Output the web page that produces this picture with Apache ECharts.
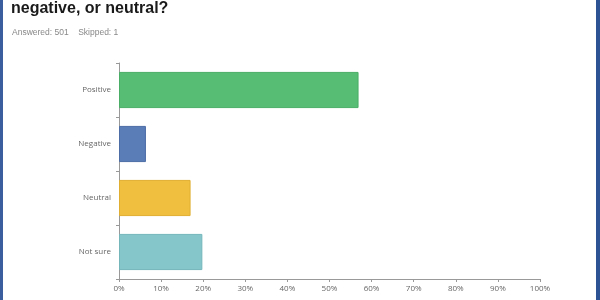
<!DOCTYPE html>
<html><head><meta charset="utf-8">
<script src="https://cdn.jsdelivr.net/npm/echarts@6/dist/echarts.min.js"></script>
<style>html,body{margin:0;padding:0;background:#fff}#c{width:600px;height:300px}</style>
</head><body><div id="c"></div>
<script>
const categories = ['Positive', 'Negative', 'Neutral', 'Not sure'];
const values = [56.9, 6.4, 17.0, 19.8];
const colors = ['#57BD74', '#5A7DB8', '#F0BF3F', '#84C6CA'];
const borders = ['#4AAE66', '#4C6DA6', '#E0AE30', '#74B6BA'];
const xTicks = [0, 10, 20, 30, 40, 50, 60, 70, 80, 90, 100];

const chart = echarts.init(document.getElementById('c'), null, {renderer: 'canvas'});
chart.setOption({
  animation: false,
  backgroundColor: '#fff',
  title: [
    {text: 'negative, or neutral?', left: 11, top: 1, padding: 0,
     textStyle: {fontFamily: 'Liberation Sans', fontWeight: 'bold', fontSize: 16, color: '#1a1a1a'}},
    {text: 'Answered: 501    Skipped: 1', left: 12, top: 28, padding: 0,
     textStyle: {fontFamily: 'Liberation Sans', fontWeight: 'normal', fontSize: 8.5, color: '#888'}}
  ],
  graphic: [
    {type: 'rect', shape: {x: 0, y: 0, width: 3, height: 300}, style: {fill: '#3A5E9E'}},
    {type: 'rect', shape: {x: 596, y: 0, width: 4, height: 300}, style: {fill: '#2D5395'}}
  ],
  grid: {left: 119, right: 60, top: 63, bottom: 21, containLabel: false},
  xAxis: {
    type: 'value', min: 0, max: 100, interval: 10,
    axisLine: {show: true, lineStyle: {color: '#999', width: 1}},
    axisTick: {show: true, length: 3, lineStyle: {color: '#999'}},
    splitLine: {show: false},
    axisLabel: {formatter: v => v + '%', fontFamily: 'Open Sans', fontSize: 8, color: '#666', margin: 6}
  },
  yAxis: {
    type: 'category', data: categories, inverse: true,
    axisLine: {show: true, lineStyle: {color: '#999', width: 1}},
    axisTick: {show: true, length: 3, lineStyle: {color: '#999'}},
    axisLabel: {fontFamily: 'Open Sans', fontSize: 8, color: '#666', margin: 8}
  },
  series: [{
    type: 'bar',
    barCategoryGap: '33%',
    data: values.map((v, i) => ({value: v, itemStyle: {color: colors[i], borderColor: borders[i], borderWidth: 1}}))
  }]
});
</script></body></html>
